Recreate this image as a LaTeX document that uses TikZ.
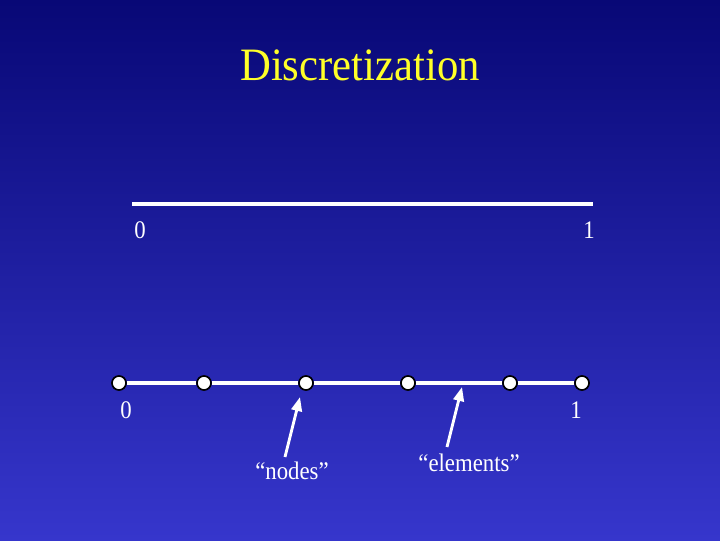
\documentclass[tikz,border=0pt]{standalone}
\usepackage{fontspec}
\setmainfont{Liberation Serif}
\usetikzlibrary{arrows.meta}
\definecolor{bgtop}{RGB}{8,8,118}
\definecolor{bgbottom}{RGB}{54,54,204}
\definecolor{titleyellow}{RGB}{255,255,40}
\tikzset{
  meshnode/.style={draw=black, circle, fill=white, line width=1.2pt, minimum size=10pt, inner sep=0pt},
  label/.style={text=white, font=\fontsize{18}{20}\selectfont, xscale=0.9, inner sep=0pt},
  segment/.style={white, line width=2.4pt},
  pointer/.style={draw=white, line width=2pt, -{Triangle[length=10pt,width=7.5pt]}}
}
\begin{document}
\begin{tikzpicture}[x=0.025cm, y=0.025cm]
            % Background
            \shade[top color=bgtop, bottom color=bgbottom] (0,0) rectangle (720,540);
            \node[text=titleyellow, font=\fontsize{33}{36}\selectfont, xscale=0.92] (title) at (360,475) {Discretization};

            % Continuous interval
            \coordinate (left) at (132,336);
            \coordinate (right) at (593,336);
            \draw[segment] (left) -- (right);
            \node[label] (zero) at (140,310) {0};
            \node[label] (one) at (589,310) {1};

            % Nodes
            \node[meshnode] (n0) at (119,157) {};
            \node[meshnode] (n1) at (204,157) {};
            \node[meshnode] (n2) at (306,157) {};
            \node[meshnode] (n3) at (408,157) {};
            \node[meshnode] (n4) at (510,157) {};
            \node[meshnode] (n5) at (582,157) {};
            \node[label] (zerob) at (126,130) {0};
            \node[label] (oneb) at (576,130) {1};

            % Elements
            \draw[segment] (n0) -- (n1);
            \draw[segment] (n1) -- (n2);
            \draw[segment] (n2) -- (n3);
            \draw[segment] (n3) -- (n4);
            \draw[segment] (n4) -- (n5);

            % Labels and pointers
            \node[label] (lblnodes) at (292,69) {“nodes”};
            \node[label] (lblelems) at (469,77) {“elements”};
            \coordinate (tailnodes) at (285,83);
            \coordinate (tipnodes) at (300,143);
            \coordinate (tailelems) at (447,93);
            \coordinate (tipelems) at (462,153);
            \draw[pointer] (tailnodes) -- (tipnodes);
            \draw[pointer] (tailelems) -- (tipelems);
        \end{tikzpicture}
\end{document}
